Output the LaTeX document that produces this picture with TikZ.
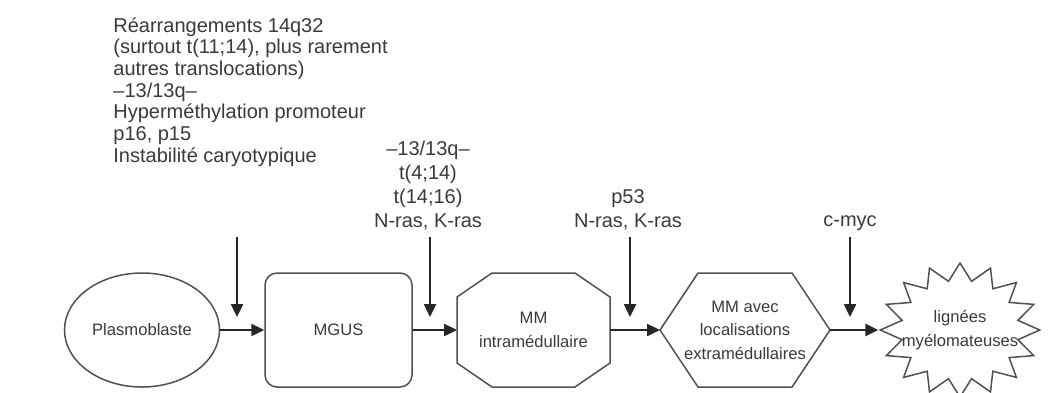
\documentclass[tikz,border=0pt]{standalone}
\usepackage{fontspec}
\setmainfont{Liberation Sans}
\usetikzlibrary{shapes.geometric,arrows.meta}
\definecolor{ink}{HTML}{3A3A3A}
\definecolor{edge}{HTML}{505050}

\begin{document}
\begin{tikzpicture}[x=0.5pt,y=-0.5pt,
  every node/.style={text=ink},
  shapebox/.style={font=\fontsize{8.3}{11.8}\selectfont, align=center, inner sep=0pt, minimum height=57pt},
  outline/.style={draw=edge, line width=0.75pt},
  flow/.style={-{Triangle[length=6.5pt,width=6pt]}, line width=1.2pt, draw=black!85},
  event/.style={font=\fontsize{10}{12}\selectfont, align=center, inner sep=0pt, anchor=south}]
  \useasboundingbox (0,0) rectangle (1054,392);

  % stades
  \node[shapebox, outline, ellipse, minimum width=77.5pt] (plasmo) at (142,330) {Plasmoblaste};
  \node[shapebox, outline, rounded corners=6pt, minimum width=73.5pt] (mgus) at (338.5,330) {MGUS};
  \node[shapebox, minimum width=76.5pt, outer sep=0pt] (intra) at (533.5,330) {MM\\intramédullaire};
  \node[shapebox, minimum width=85pt, outer sep=0pt] (extra) at (745,330) {MM avec\\localisations\\extramédullaires};
  \node[outline, star, star points=16, star point ratio=1.35, minimum size=67pt, inner sep=0pt, xscale=1.19] (lign) at (960,330) {};
  \node[shapebox, minimum height=0pt] (ligntext) at (960,330) {lignées\\myélomateuses};

  % contours
  \draw[outline] ([xshift=17.5pt]intra.north west) -- ([xshift=-17.5pt]intra.north east)
    -- ([yshift=-12pt]intra.north east) -- ([yshift=12pt]intra.south east)
    -- ([xshift=-17.5pt]intra.south east) -- ([xshift=17.5pt]intra.south west)
    -- ([yshift=12pt]intra.south west) -- ([yshift=-12pt]intra.north west) -- cycle;
  \draw[outline] (extra.west) -- ([xshift=19pt]extra.north west) -- ([xshift=-19pt]extra.north east)
    -- (extra.east) -- ([xshift=-19pt]extra.south east) -- ([xshift=19pt]extra.south west) -- cycle;

  % anomalies
  \node[font=\fontsize{10}{10.85}\selectfont, align=left, inner sep=0pt, anchor=north west] (genes) at (113,17)
    {Réarrangements 14q32\\(surtout t(11;14), plus rarement\\autres translocations)\\–13/13q–\\Hyperméthylation promoteur\\p16, p15\\Instabilité caryotypique};
  \node[event] (mgusev) at (428,230) {–13/13q–\\t(4;14)\\t(14;16)\\N-ras, K-ras};
  \node[event] (intraev) at (628,230) {p53\\N-ras, K-ras};
  \node[event] (extraev) at (850,231) {c-myc};

  \foreach \x/\n in {237/a,430/b,630/c,850/d} {
    \coordinate (from\n) at (\x,237);
    \coordinate (tip\n) at (\x,317);
  }

  \draw[flow] (froma) -- (tipa);
  \draw[flow] (fromb) -- (tipb);
  \draw[flow] (fromc) -- (tipc);
  \draw[flow] (fromd) -- (tipd);

  \draw[flow] (plasmo.east) -- (mgus.west);
  \draw[flow] (mgus.east) -- (intra.west);
  \draw[flow] (intra.east) -- (extra.west);
  \draw[flow] (extra.east) -- (lign);
\end{tikzpicture}
\end{document}
